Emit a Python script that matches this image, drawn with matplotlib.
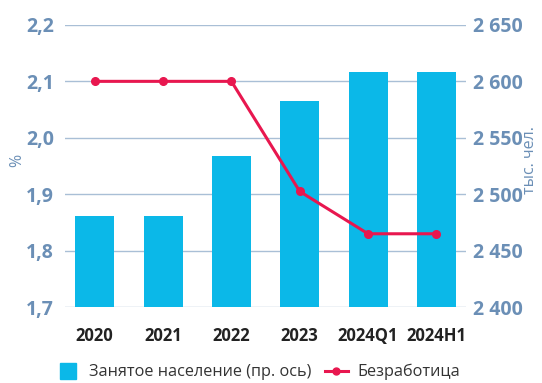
import matplotlib
matplotlib.use("Agg")
import matplotlib.pyplot as plt
from matplotlib.lines import Line2D

plt.rcParams['font.family'] = ['Open Sans', 'DejaVu Sans']

periods = ["2020", "2021", "2022", "2023", "2024Q1", "2024H1"]
employed = [2481, 2481, 2534, 2583, 2608, 2608]  # тыс. чел., right axis
unemployment = [2.1, 2.1, 2.1, 1.905, 1.83, 1.83]  # %, left axis

bar_col = "#0bb8e8"
line_col = "#e8174f"
tick_col = "#6b8fb6"
grid_col = "#a9bfd6"

fig = plt.figure(figsize=(5.42, 3.83), dpi=100)
ax = fig.add_axes([0.12, 0.198, 0.74, 0.737])
ax2 = ax.twinx()

x = range(len(periods))

# bars on the right axis, drawn underneath
ax2.bar(x, employed, width=0.57, color=bar_col, zorder=2)
ax2.set_ylim(2400, 2650)
ax2.set_yticks([2400, 2450, 2500, 2550, 2600, 2650])
ax2.set_yticklabels(["2 400", "2 450", "2 500", "2 550", "2 600", "2 650"],
                    fontweight="bold", fontsize=14, color=tick_col)
ax2.yaxis.grid(True, color=grid_col, linewidth=1.0)
ax2.set_axisbelow(True)
ax2.set_ylabel("тыс. чел.", color=tick_col, fontsize=11.5)
ax2.yaxis.set_label_coords(1.14, 0.52)

# line on the left axis, on top
ax.set_zorder(ax2.get_zorder() + 1)
ax.patch.set_visible(False)
ax.plot(x, unemployment, color=line_col, linewidth=2.2, marker="o", markersize=5.5)
ax.set_ylim(1.7, 2.2)
ax.set_yticks([1.7, 1.8, 1.9, 2.0, 2.1, 2.2])
ax.set_yticklabels(["1,7", "1,8", "1,9", "2,0", "2,1", "2,2"],
                   fontweight="bold", fontsize=14, color=tick_col)
ax.set_ylabel("%", color=tick_col, fontsize=11.5)
ax.yaxis.set_label_coords(-0.10, 0.52)
ax.set_xlim(-0.435, len(periods) - 0.565)
ax.set_xticks(list(x))
ax.set_xticklabels(periods, fontweight="bold", fontsize=12, color="#222222")

for a in (ax, ax2):
    for s in a.spines.values():
        s.set_visible(False)
    a.tick_params(axis="y", length=0)
ax.tick_params(axis="y", pad=8)
ax2.tick_params(axis="y", pad=5)
ax.tick_params(axis="x", length=0, pad=14)

handles = [
    Line2D([], [], color=bar_col, linestyle="none", marker="s", markersize=11,
           label="Занятое население (пр. ось)"),
    Line2D([], [], color=line_col, linewidth=2.2, marker="o", markersize=5,
           label="Безработица"),
]
fig.legend(handles=handles, loc="center left", bbox_to_anchor=(0.078, 0.028),
           ncol=2, frameon=False, fontsize=11.7, labelcolor="#333333",
           handlelength=1.4, handletextpad=0.6, columnspacing=0.8)

fig.savefig("out.png", dpi=100)
